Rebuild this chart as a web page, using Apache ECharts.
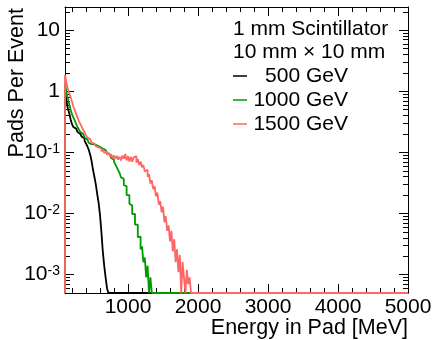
<!DOCTYPE html>
<html>
<head>
<meta charset="utf-8">
<script src="https://cdn.jsdelivr.net/npm/echarts@6/dist/echarts.min.js"></script>
<style>
  html, body { margin: 0; padding: 0; background: #fff; }
  #chart { width: 434px; height: 340px; }
</style>
</head>
<body>
<div id="chart"></div>
<script>
// histogram bins: left edges start at 100 MeV, 20 MeV wide
const BIN_START = 100;
const BIN_WIDTH = 20;
const X_MIN = 100;
const X_MAX = 5000;
const Y_MIN = 5e-4;
const Y_MAX = 24;

const seriesNames = ['500 GeV', '1000 GeV', '1500 GeV'];
const seriesColors = ['#000000', '#009900', '#ff6666'];

const pads500 = [
  1.0, 0.7, 0.53, 0.44, 0.35, 0.29, 0.26, 0.245, 0.23, 0.215,
  0.2, 0.19, 0.18, 0.17, 0.155, 0.14, 0.125, 0.11, 0.092, 0.072,
  0.052, 0.04, 0.03, 0.021, 0.015, 0.0095, 0.005, 0.0024, 0.0014, 0.0009,
  0.0006
];
const pads1000 = [
  1.34, 0.98, 0.76, 0.62, 0.5, 0.42, 0.37, 0.33, 0.29, 0.26,
  0.235, 0.215, 0.2, 0.19, 0.175, 0.163, 0.152, 0.143, 0.137, 0.132,
  0.135, 0.126, 0.13, 0.121, 0.124, 0.118, 0.116, 0.119, 0.109, 0.103,
  0.099, 0.092, 0.087, 0.081, 0.076, 0.07, 0.063, 0.057, 0.051, 0.046,
  0.039, 0.037, 0.029, 0.028, 0.02, 0.02, 0.0145, 0.0135, 0.0098, 0.0099,
  0.0066, 0.0066, 0.0041, 0.0042, 0.0026, 0.0029, 0.0016, 0.0019, 0.0009, 0.0014,
  0, 0.0009
];
const pads1500 = [
  1.85, 1.4, 1.1, 0.95, 0.8, 0.68, 0.56, 0.49, 0.42, 0.37,
  0.32, 0.29, 0.26, 0.235, 0.21, 0.19, 0.175, 0.165, 0.155, 0.145,
  0.14, 0.133, 0.127, 0.121, 0.118, 0.116, 0.104, 0.113, 0.098, 0.103,
  0.092, 0.097, 0.086, 0.093, 0.081, 0.089, 0.078, 0.088, 0.076, 0.085,
  0.074, 0.089, 0.079, 0.094, 0.074, 0.087, 0.071, 0.085, 0.07, 0.083,
  0.087, 0.068, 0.078, 0.062, 0.071, 0.057, 0.062, 0.049, 0.052, 0.04,
  0.044, 0.031, 0.035, 0.025, 0.028, 0.019, 0.022, 0.014, 0.016, 0.0105,
  0.013, 0.0072, 0.009, 0.0052, 0.0064, 0.0035, 0.0052, 0.0024, 0.0038, 0.0016,
  0.0026, 0.0011, 0.0021, 0, 0.0016, 0.0009, 0, 0.0012, 0.0007, 0.0009
];

const xMajorTicks = [1000, 2000, 3000, 4000, 5000];
const yMajorTicks = [0.001, 0.01, 0.1, 1, 10];

const xMinorTicks = [];
for (let v = 200; v < X_MAX; v += 200) xMinorTicks.push(v);
const yMinorTicks = [];
[1e-4, 1e-3, 1e-2, 1e-1, 1, 10].forEach(d => {
  for (let k = 2; k <= 9; k++) {
    const v = +(k * d).toPrecision(3);
    if (v >= Y_MIN && v <= Y_MAX) yMinorTicks.push(v);
  }
});

const FONT = 'Liberation Sans';

// step line: rise from the floor at the first edge, flat per bin, zero bins on the floor
function histPoints(values) {
  const pts = [[BIN_START, Y_MIN]];
  values.forEach((v, i) => pts.push([BIN_START + i * BIN_WIDTH, v > 0 ? v : Y_MIN]));
  pts.push([BIN_START + values.length * BIN_WIDTH, Y_MIN]);
  pts.push([X_MAX, Y_MIN]);
  return pts;
}

function yLabel(v) {
  const e = Math.round(Math.log10(v));
  if (e === 0) return '1';
  if (e === 1) return '10';
  return '10{s|' + e + '}';
}

function xAxisDef(position, major) {
  return {
    type: 'value', min: X_MIN, max: X_MAX, position,
    axisLine: { show: major, onZero: false, lineStyle: { color: '#000', width: 1 } },
    axisTick: { inside: true, length: major ? 9 : 5, customValues: major ? xMajorTicks : xMinorTicks,
                lineStyle: { color: '#000', width: 1 } },
    axisLabel: position === 'bottom' && major
      ? { customValues: xMajorTicks, margin: 4, fontSize: 21, fontFamily: FONT, color: '#000',
          formatter: v => String(v) }
      : { show: false },
    splitLine: { show: false },
  };
}

function yAxisDef(position, major) {
  return {
    type: 'log', logBase: 10, min: Y_MIN, max: Y_MAX, position,
    axisLine: { show: major, onZero: false, lineStyle: { color: '#000', width: 1 } },
    axisTick: { inside: true, length: major ? 9 : 5, customValues: major ? yMajorTicks : yMinorTicks,
                lineStyle: { color: '#000', width: 1 } },
    axisLabel: position === 'left' && major
      ? { customValues: yMajorTicks, margin: 5, fontSize: 21, fontFamily: FONT, color: '#000',
          formatter: yLabel,
          rich: { s: { fontSize: 14, fontFamily: FONT, color: '#000', verticalAlign: 'top', lineHeight: 14 } } }
      : { show: false },
    splitLine: { show: false },
    minorTick: { show: false },
  };
}

const chart = echarts.init(document.getElementById('chart'), null, { renderer: 'canvas' });
chart.setOption({
  animation: false,
  backgroundColor: '#fff',
  grid: { left: 65, top: 7, width: 343, height: 286, containLabel: false, outerBoundsMode: 'none' },
  title: {
    text: '1 mm Scintillator\n10 mm \u00d7 10 mm',
    left: 233, top: 18, padding: 0,
    textStyle: { fontSize: 21, fontWeight: 'normal', fontFamily: FONT, color: '#000', lineHeight: 23 },
  },
  legend: {
    orient: 'vertical', left: 233, top: 64, padding: 0, itemGap: 0,
    icon: 'rect', itemWidth: 14, itemHeight: 1.5,
    data: seriesNames,
    formatter: name => '{r|' + name + '}',
    textStyle: {
      fontSize: 21, fontFamily: FONT, color: '#000', lineHeight: 24,
      rich: { r: { width: 96, align: 'right', fontSize: 21, fontFamily: FONT, color: '#000', lineHeight: 24 } },
    },
  },
  // axis titles, ROOT style: flush with the far end of each axis
  graphic: [
    { type: 'text', x: 408, y: 328, silent: true,
      style: { text: 'Energy in Pad [MeV]', fontSize: 21.5, fontFamily: FONT, fill: '#000', align: 'right', verticalAlign: 'middle' } },
    { type: 'text', x: 17, y: 8, rotation: Math.PI / 2, silent: true,
      style: { text: 'Pads Per Event', fontSize: 21.5, fontFamily: FONT, fill: '#000', align: 'right', verticalAlign: 'middle' } },
  ],
  xAxis: [xAxisDef('bottom', true), xAxisDef('bottom', false), xAxisDef('top', true), xAxisDef('top', false)],
  yAxis: [yAxisDef('left', true), yAxisDef('left', false), yAxisDef('right', true), yAxisDef('right', false)],
  series: [pads500, pads1000, pads1500].map((vals, i) => ({
    name: seriesNames[i],
    type: 'line',
    step: 'end',
    xAxisIndex: 0,
    yAxisIndex: 0,
    showSymbol: false,
    symbol: 'none',
    color: seriesColors[i],
    lineStyle: { color: seriesColors[i], width: 1.8 },
    data: histPoints(vals),
  })),
});
</script>
</body>
</html>
